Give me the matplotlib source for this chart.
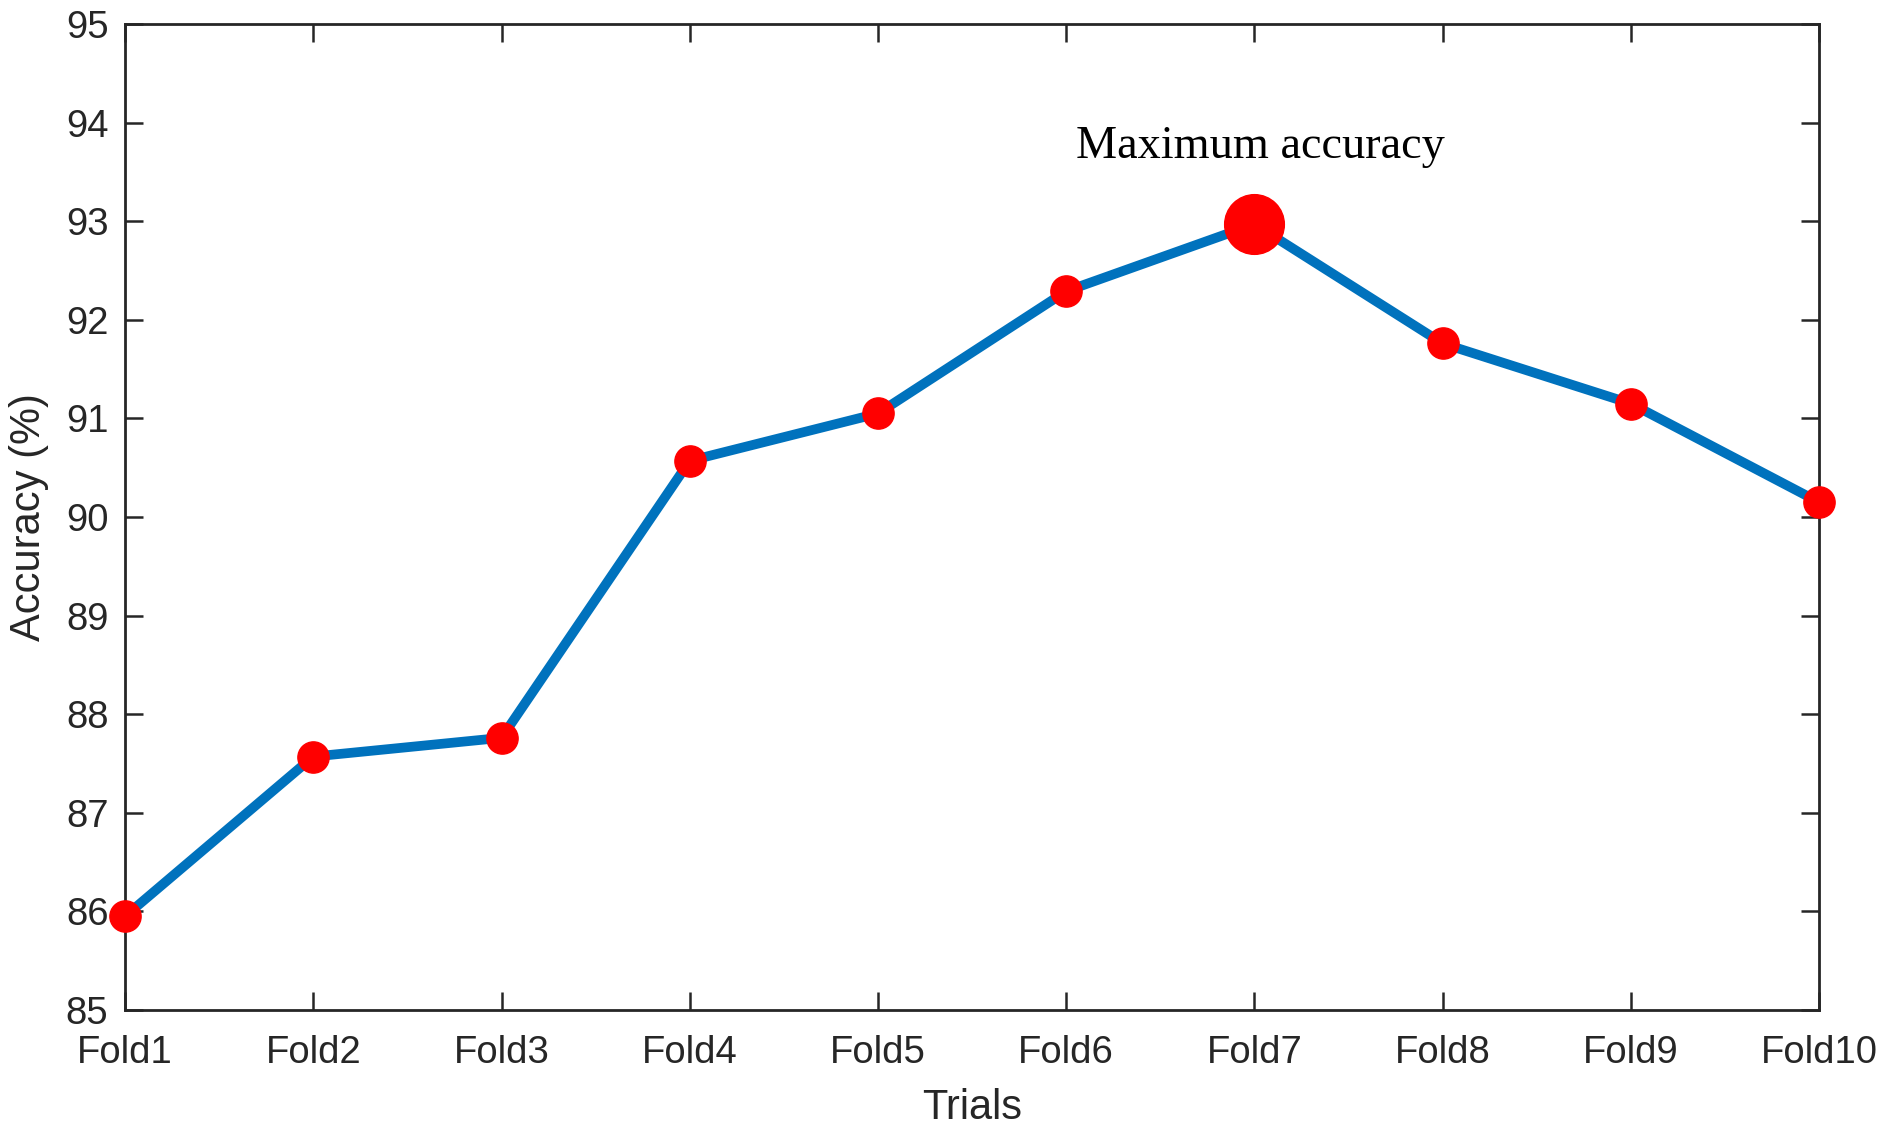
import numpy as np
import matplotlib
matplotlib.use("Agg")
import matplotlib.pyplot as plt

folds = ["Fold1", "Fold2", "Fold3", "Fold4", "Fold5",
         "Fold6", "Fold7", "Fold8", "Fold9", "Fold10"]
accuracy = [85.95, 87.57, 87.76, 90.57, 91.05, 92.29, 92.97, 91.76, 91.15, 90.15]
best_label = "Maximum accuracy"

text_col = "#262626"
plt.rcParams["font.family"] = ["Liberation Sans", "DejaVu Sans"]

fig = plt.figure(figsize=(18.89, 11.32), dpi=100)
ax = fig.add_axes([0.0662, 0.1078, 0.8968, 0.871])

x = np.arange(1, len(folds) + 1)
ax.plot(x, accuracy, color="#0072BD", lw=7, zorder=2)
ax.plot(x, accuracy, "o", color="red", ms=22.5, mec="red", clip_on=False, zorder=3)

best = int(np.argmax(accuracy))
ax.plot(x[best], accuracy[best], "o", color="red", ms=43, clip_on=False, zorder=4)
ax.text(x[best] + 0.03, accuracy[best] + 0.78, best_label, ha="center", va="center",
        fontsize=33.3, family=["Liberation Serif", "DejaVu Serif"], color="black")

ax.set_xlim(1, 10)
ax.set_ylim(85, 95)
ax.set_xticks(x)
ax.set_xticklabels(folds)
ax.set_yticks(np.arange(85, 96, 1))

ax.tick_params(direction="in", length=13, width=1.8, top=True, right=True,
               labelsize=27.5, colors=text_col, pad=18)
ax.tick_params(axis="y", pad=12)
for s in ax.spines.values():
    s.set_linewidth(2)
    s.set_color(text_col)

ax.set_xlabel("Trials", fontsize=30, color=text_col, labelpad=12)
ax.set_ylabel("Accuracy (%)", fontsize=30, color=text_col, labelpad=12)

fig.savefig("out.png", dpi=100)
